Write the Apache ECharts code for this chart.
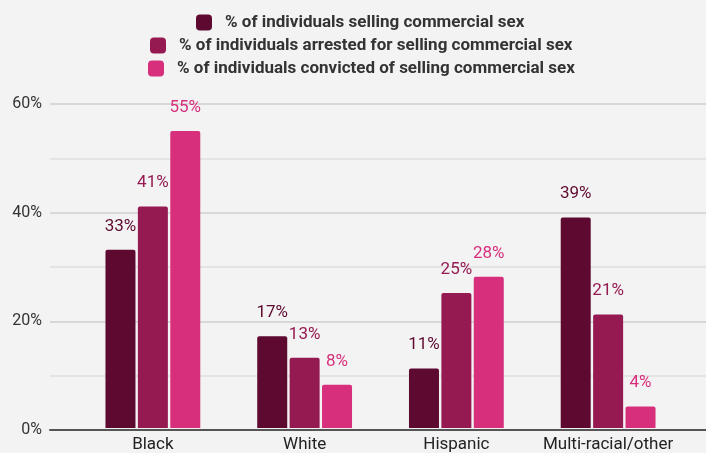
<!DOCTYPE html>
<html><head><meta charset="utf-8">
<script src="https://cdn.jsdelivr.net/npm/echarts@6/dist/echarts.min.js"></script>
<style>html,body{margin:0;padding:0;background:#f3f3f3}#c{width:706px;height:453px}</style>
</head><body><div id="c"></div>
<script>
const categories = ['Black', 'White', 'Hispanic', 'Multi-racial/other'];
const seriesNames = [
  '% of individuals selling commercial sex',
  '% of individuals arrested for selling commercial sex',
  '% of individuals convicted of selling commercial sex'
];
const selling = [33, 17, 11, 39];
const arrested = [41, 13, 25, 21];
const convicted = [55, 8, 28, 4];
const yTicks = [0, 20, 40, 60];

const colors = ['#5e0a30', '#951a52', '#d72f7c'];
const values = [selling, arrested, convicted];
const FONT = 'Roboto';
const legendLefts = [191, 145, 143];

const chart = echarts.init(document.getElementById('c'));
const legends = seriesNames.map((n, i) => ({
  data: [n], left: legendLefts[i], top: 9 + i * 23, itemWidth: 16, itemHeight: 16,
  itemGap: 10, icon: 'roundRect', padding: 5,
  textStyle: { fontFamily: FONT, fontSize: 17, fontWeight: 'bold', color: '#333', padding: [0, 0, 0, 8] },
  selectedMode: false
}));
chart.setOption({
  backgroundColor: '#f3f3f3',
  animation: false,
  legend: legends,
  grid: [
    { left: 50, right: 0, top: 104, bottom: 23 },
    { left: 77, right: 22, top: 104, bottom: 23 }
  ],
  xAxis: [
    { gridIndex: 0, type: 'category', data: categories, axisLine: { lineStyle: { color: '#555', width: 2 } },
      axisTick: { show: false }, axisLabel: { show: false } },
    { gridIndex: 1, type: 'category', data: categories, axisLine: { show: false }, axisTick: { show: false },
      axisLabel: { interval: 0, fontFamily: FONT, fontSize: 17, color: '#222', margin: 8 } }
  ],
  yAxis: [
    { gridIndex: 0, type: 'value', min: 0, max: 60, interval: 20,
      axisLabel: { fontFamily: FONT, fontSize: 16, color: '#333', margin: 8, formatter: v => yTicks.includes(v) ? v + '%' : '' },
      splitLine: { lineStyle: { color: '#cfcfcf', width: 1.5 } },
      minorTick: { show: false, splitNumber: 2 },
      minorSplitLine: { show: true, lineStyle: { color: '#e0e0e0', width: 1.5 } },
      axisLine: { show: false }, axisTick: { show: false } },
    { gridIndex: 1, type: 'value', min: 0, max: 60, interval: 20, show: false, splitLine: { show: false } }
  ],
  series: values.map((d, i) => ({
    name: seriesNames[i], type: 'bar', xAxisIndex: 1, yAxisIndex: 1, data: d,
    barWidth: 30, barGap: '8%',
    itemStyle: { color: colors[i], borderRadius: [2, 2, 0, 0] },
    label: { show: true, position: 'top', distance: 15, formatter: '{c}%',
      fontFamily: FONT, fontSize: 17, color: colors[i] }
  }))
});
</script></body></html>
